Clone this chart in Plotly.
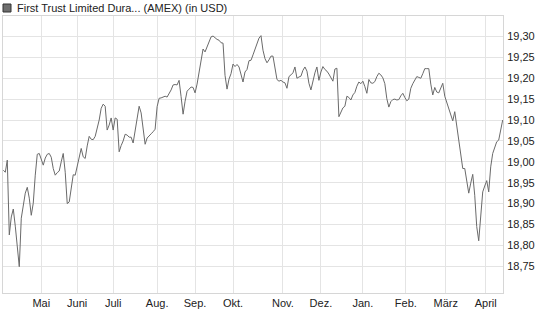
import plotly.graph_objects as go

series_name = "First Trust Limited Dura... (AMEX) (in USD)"

prices = [
    18.980, 18.975, 19.004, 18.825, 18.868, 18.887, 18.846, 18.789, 18.749, 18.865,
    18.896, 18.925, 18.939, 18.913, 18.872, 18.901, 18.968, 19.018, 19.020, 19.006,
    18.992, 19.009, 19.018, 19.020, 19.011, 18.984, 18.968, 18.974, 18.978, 19.000,
    19.020, 18.975, 18.900, 18.904, 18.940, 18.969, 18.968, 18.992, 19.009, 19.032,
    19.012, 19.008, 19.038, 19.061, 19.054, 19.053, 19.061, 19.081, 19.100, 19.128,
    19.138, 19.133, 19.076, 19.088, 19.105, 19.076, 19.105, 19.102, 19.024, 19.039,
    19.050, 19.066, 19.064, 19.059, 19.059, 19.045, 19.078, 19.105, 19.133, 19.117,
    19.076, 19.042, 19.057, 19.061, 19.067, 19.072, 19.078, 19.132, 19.152, 19.153,
    19.156, 19.157, 19.155, 19.162, 19.172, 19.184, 19.185, 19.184, 19.195, 19.156,
    19.114, 19.145, 19.169, 19.174, 19.179, 19.178, 19.165, 19.186, 19.215, 19.248,
    19.270, 19.263, 19.276, 19.288, 19.299, 19.301, 19.296, 19.293, 19.291, 19.285,
    19.284, 19.207, 19.174, 19.198, 19.211, 19.234, 19.228, 19.233, 19.227, 19.207,
    19.191, 19.215, 19.221, 19.242, 19.243, 19.256, 19.271, 19.286, 19.296, 19.302,
    19.267, 19.247, 19.237, 19.244, 19.253, 19.253, 19.227, 19.197, 19.193, 19.195,
    19.191, 19.189, 19.176, 19.204, 19.208, 19.213, 19.227, 19.200, 19.203, 19.205,
    19.219, 19.227, 19.217, 19.188, 19.172, 19.195, 19.213, 19.227, 19.195, 19.215,
    19.228, 19.221, 19.217, 19.210, 19.200, 19.193, 19.222, 19.224, 19.108, 19.120,
    19.129, 19.133, 19.157, 19.154, 19.148, 19.160, 19.166, 19.181, 19.191, 19.187,
    19.193, 19.180, 19.164, 19.197, 19.189, 19.188, 19.192, 19.204, 19.212, 19.208,
    19.201, 19.187, 19.151, 19.131, 19.144, 19.149, 19.150, 19.148, 19.149, 19.158,
    19.164, 19.154, 19.146, 19.150, 19.176, 19.187, 19.194, 19.204, 19.202, 19.200,
    19.211, 19.223, 19.223, 19.223, 19.186, 19.160, 19.178, 19.167, 19.165, 19.178,
    19.188, 19.157, 19.143, 19.128, 19.116, 19.098, 19.120, 19.084, 19.044, 19.008,
    18.984, 18.984, 18.959, 18.925, 18.949, 18.970, 18.920, 18.845, 18.811, 18.861,
    18.928, 18.942, 18.955, 18.928, 18.988, 19.020, 19.033, 19.048, 19.052, 19.076,
    19.100,
]
days = list(range(len(prices)))

month_labels = ["Mai", "Juni", "Juli", "Aug.", "Sep.", "Okt.", "Nov.", "Dez.",
                "Jan.", "Feb.", "März", "April"]
month_start_index = [19, 37, 55, 77, 96, 115, 140, 159, 180, 201.5, 221.5, 241.5]

y_ticks = [18.75, 18.80, 18.85, 18.90, 18.95, 19.00, 19.05, 19.10, 19.15, 19.20, 19.25, 19.30]

GRID = "#e4e4e4"
BORDER = "#d6d6d6"
TXT = "#222222"

fig = go.Figure()
fig.add_trace(go.Scatter(
    x=days, y=prices, mode="lines", name=series_name,
    line=dict(color="#6a6a6a", width=1), showlegend=False,
    hoverinfo="skip",
))

fig.update_layout(
    width=545, height=327,
    margin=dict(l=3, r=42, t=16, b=34),
    paper_bgcolor="white", plot_bgcolor="white",
    separators=",.",
    font=dict(family="Liberation Sans, Arial, sans-serif", size=11, color=TXT),
    xaxis=dict(
        range=[-0.15, 250.15],
        tickmode="array", tickvals=month_start_index, ticktext=month_labels,
        showgrid=True, gridcolor=GRID, gridwidth=1,
        zeroline=False, showline=True, mirror=True, linecolor=BORDER, linewidth=1,
        ticks="", ticklabelstandoff=0,
        tickfont=dict(size=11, color=TXT),
        fixedrange=True,
    ),
    yaxis=dict(
        range=[18.686, 19.349], side="right",
        tickmode="array", tickvals=y_ticks, tickformat=".2f",
        showgrid=True, gridcolor=GRID, gridwidth=1,
        zeroline=False, showline=True, mirror=True, linecolor=BORDER, linewidth=1,
        ticks="", ticklabelstandoff=1,
        tickfont=dict(size=11, color=TXT),
        fixedrange=True,
    ),
    shapes=[dict(
        type="rect", xref="paper", yref="paper", layer="above",
        x0=0 / 500, x1=8 / 500,
        y0=1 + 4 / 277, y1=1 + 12 / 277,
        fillcolor="#6e6e6e", line=dict(color="#333333", width=1),
    )],
    annotations=[dict(
        text=series_name, xref="paper", yref="paper",
        x=12 / 500, y=1 + 8 / 277, xanchor="left", yanchor="middle",
        showarrow=False, font=dict(size=11, color=TXT),
    )],
)

fig.write_html("out.html")
